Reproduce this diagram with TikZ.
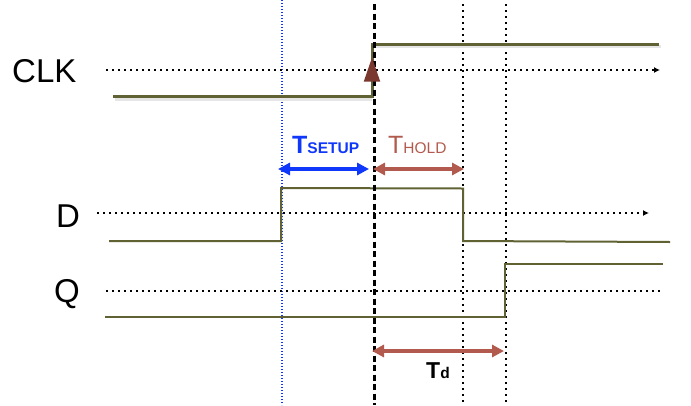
\documentclass[tikz,border=0pt]{standalone}
\usepackage{fontspec}
\setmainfont{Liberation Sans}
\usetikzlibrary{arrows.meta,shapes.geometric}
\definecolor{olive}{RGB}{96,98,52}
\definecolor{setupblue}{RGB}{16,56,250}
\definecolor{holdred}{RGB}{178,90,78}
\definecolor{clkarrow}{RGB}{122,56,46}
\tikzset{
  signal/.style={olive, line width=2pt, line join=miter},
  clksignal/.style={olive, line width=3pt, line join=miter},
  shadowline/.style={black!10, line width=3pt},
  guide/.style={black, line width=1.7pt, dash pattern=on 1.5pt off 4.5pt},
  bluedot/.style={setupblue, line width=1.1pt, dash pattern=on 1pt off 2pt},
  edgeline/.style={black, line width=3pt, dash pattern=on 6pt off 3.5pt},
  timearrow/.style={line width=3.5pt, {Triangle[length=12pt,width=12pt]}-{Triangle[length=12pt,width=12pt]}},
  siglabel/.style={font=\fontsize{33}{33}\selectfont, inner sep=0pt, anchor=base west}
}
\begin{document}
\begin{tikzpicture}[x=1pt,y=-1pt]
\useasboundingbox (0,0) rectangle (691,405);
% signal names
\node[siglabel] (clk) at (12,82) {CLK};
\node[siglabel] (d) at (56,227) {D};
\node[siglabel] (q) at (54,302) {Q};
% reference coordinates
\coordinate (clkS) at (106,70);
\coordinate (clkE) at (660,70);
\coordinate (dS) at (97,213);
\coordinate (dE) at (649,213);
\coordinate (qS) at (106,291);
\coordinate (qE) at (660,291);
% vertical guides
\coordinate (vb1) at (282,0);  \coordinate (vb2) at (282,405);
\coordinate (ve1) at (374,4);  \coordinate (ve2) at (374,405);
\coordinate (vh1) at (463,4);  \coordinate (vh2) at (463,405);
\coordinate (vq1) at (506,4);  \coordinate (vq2) at (506,405);
\draw[bluedot] (vb1) -- (vb2);
\draw[guide] (vh1) -- (vh2);
\draw[guide] (vq1) -- (vq2);
% horizontal guides
\draw[guide, -{Latex[length=6pt,width=6pt]}] (clkS) -- (clkE);
\draw[guide, -{Latex[length=6pt,width=6pt]}] (dS) -- (dE);
\draw[guide] (qS) -- (qE);
% CLK waveform
\draw[shadowline] (115,99.5) -- (372,99.5);
\draw[shadowline] (376,46.5) -- (661,46.5);
\draw[clksignal] (113,96.5) -- (372,96.5) -- (372,44) -- (659,44);
% D waveform
\draw[signal] (109,241) -- (281,241) -- (281,188) -- (463,188.5) -- (463,241) -- (670,242);
% Q waveform
\draw[signal] (105,317) -- (505,317) -- (505,263.5) -- (663,263.5);
% clock edge
\draw[edgeline] (ve1) -- (ve2);
\node[fill=clkarrow, isosceles triangle, shape border rotate=90, isosceles triangle apex angle=38, minimum height=24pt, inner sep=0pt, anchor=apex] (edge) at (372,57) {};
% timing arrows
\coordinate (su1) at (278,169);
\coordinate (su2) at (369,169);
\coordinate (ho1) at (373,169);
\coordinate (ho2) at (464,169);
\coordinate (td1) at (372,351);
\coordinate (td2) at (504,351);
\draw[timearrow, setupblue] (su1) -- (su2);
\draw[timearrow, holdred] (ho1) -- (ho2);
\draw[timearrow, holdred] (td1) -- (td2);
% timing labels
\node[inner sep=0pt, anchor=base west, text=setupblue] (tsetup) at (292,153)
  {\bfseries\fontsize{25}{25}\selectfont T\fontsize{15.5}{15.5}\selectfont SETUP};
\node[inner sep=0pt, anchor=base west, text=holdred] (thold) at (388,153)
  {\fontsize{25}{25}\selectfont T\fontsize{15.5}{15.5}\selectfont HOLD};
\node[inner sep=0pt, anchor=base west] (td) at (426,378)
  {\bfseries\fontsize{23}{23}\selectfont T\fontsize{15.5}{15.5}\selectfont d};
\end{tikzpicture}
\end{document}
